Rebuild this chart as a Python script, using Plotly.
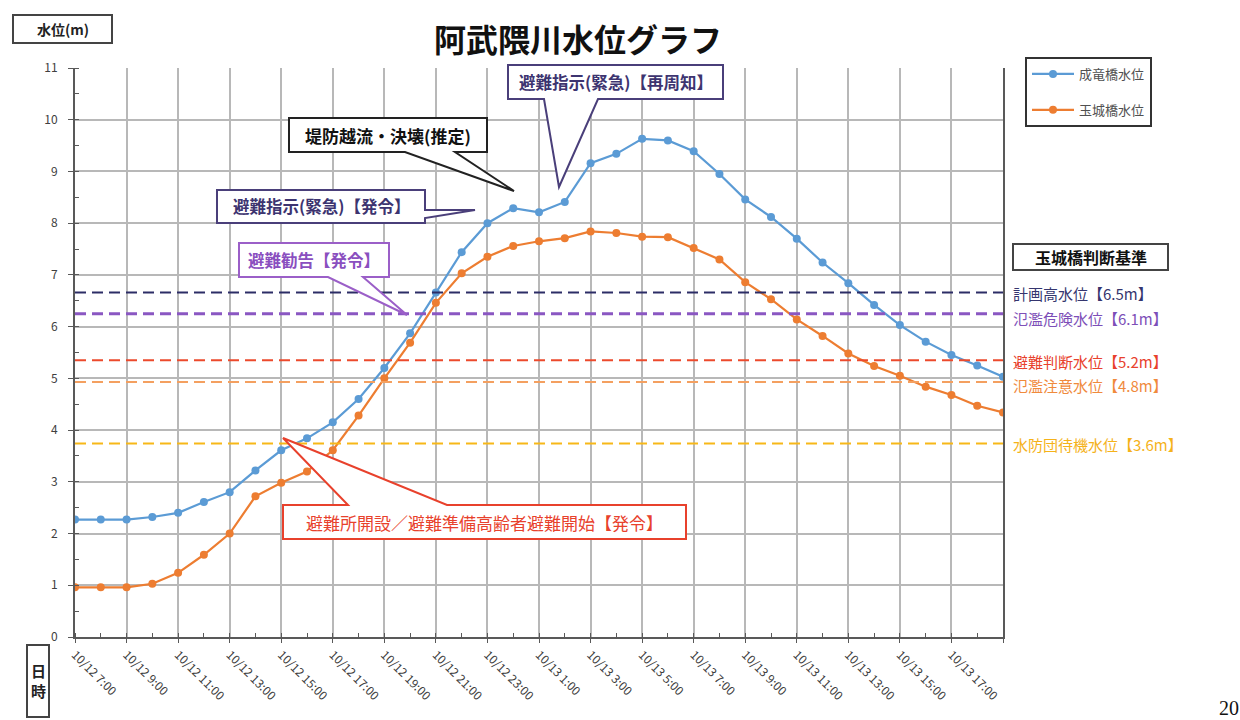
import plotly.graph_objects as go

# ---------------- data ----------------
times = (["10/12 %d:00" % h for h in range(7, 24)] +
         ["10/13 %d:00" % h for h in range(0, 20)])

seiryu = [2.27, 2.27, 2.27, 2.32, 2.40, 2.61, 2.80, 3.22, 3.61, 3.84, 4.15, 4.60,
          5.20, 5.87, 6.66, 7.44, 8.00,
          8.29, 8.21, 8.41, 9.16, 9.34, 9.63, 9.60, 9.39, 8.95, 8.46, 8.12, 7.70,
          7.24, 6.84, 6.42, 6.03, 5.71, 5.45, 5.25, 5.03]
tamaki = [0.96, 0.96, 0.96, 1.03, 1.24, 1.59, 2.00, 2.72, 2.98, 3.20, 3.61, 4.28,
          5.00, 5.69, 6.46, 7.03, 7.35,
          7.56, 7.65, 7.71, 7.84, 7.81, 7.74, 7.73, 7.52, 7.30, 6.86, 6.53, 6.14,
          5.82, 5.48, 5.24, 5.05, 4.84, 4.68, 4.47, 4.34]

series_names = ["成竜橋水位", "玉城橋水位"]

level_names = ["計画高水位【6.5m】", "氾濫危険水位【6.1m】", "避難判断水位【5.2m】",
               "氾濫注意水位【4.8m】", "水防団待機水位【3.6m】"]
level_lines = [6.66, 6.25, 5.35, 4.93, 3.74]
level_colors = ["#2c2d66", "#8a57c2", "#ec4a2c", "#f4a060", "#f7b818"]
level_text_colors = ["#35356e", "#7d4fb8", "#e8412c", "#f08a3c", "#f5b21a"]
level_widths = [2, 3, 2, 2, 2]

xidx = list(range(len(times)))
tick_idx = xidx[0:len(times) - 1:2]
tick_txt = [times[i] for i in tick_idx]

# ------------- geometry helpers (pixel -> paper) -------------
L, T, W, H = 75, 68, 928, 569
FIG_W, FIG_H = 1240, 720


def px(x):
    return (x - L) / W


def py(y):
    return (T + H - y) / H


FONT = "Noto Sans CJK JP"

fig = go.Figure()
fig.add_trace(go.Scatter(x=xidx, y=seiryu, mode="lines+markers", name=series_names[0],
                         line=dict(color="#5b9bd5", width=2.2),
                         marker=dict(size=8, color="#5b9bd5"),
                         legendgroup="a"))
fig.add_trace(go.Scatter(x=xidx, y=tamaki, mode="lines+markers", name=series_names[1],
                         line=dict(color="#ed7d31", width=2.2),
                         marker=dict(size=8, color="#ed7d31"),
                         legendgroup="b"))

shapes = []
annos = []

# threshold dashed lines + labels (labels nudged apart slightly so they don't collide)
label_nudge = [-0.02, -0.1, -0.02, -0.06, -0.01]
for name, yv, c, tc, w, dn in zip(level_names, level_lines, level_colors, level_text_colors,
                                   level_widths, label_nudge):
    shapes.append(dict(type="line", xref="paper", yref="y", x0=0, x1=1, y0=yv, y1=yv,
                       line=dict(color=c, width=w, dash="11px,6px"), layer="above"))
    annos.append(dict(xref="paper", yref="y", x=px(1011), y=yv + dn, text=name, showarrow=False,
                      xanchor="left", yanchor="middle",
                      font=dict(family=FONT, size=15, color=tc)))


def path_str(pts):
    s = "M %f,%f" % (px(pts[0][0]), py(pts[0][1]))
    for p in pts[1:]:
        s += " L %f,%f" % (px(p[0]), py(p[1]))
    return s + " Z"


def callout(box, side, b1, b2, tip, color, text, tcolor, bold=False, size=15):
    x0, y0, x1, y1 = box
    if side == "bottom":
        pts = [(x0, y0), (x1, y0), (x1, y1), (b2, y1), tip, (b1, y1), (x0, y1)]
    elif side == "top":
        pts = [(x0, y0), (b1, y0), tip, (b2, y0), (x1, y0), (x1, y1), (x0, y1)]
    else:  # right
        pts = [(x0, y0), (x1, y0), (x1, b1), tip, (x1, b2), (x1, y1), (x0, y1)]
    shapes.append(dict(type="path", xref="paper", yref="paper", path=path_str(pts),
                       fillcolor="white", line=dict(color=color, width=2), layer="above"))
    t = "<b>%s</b>" % text if bold else text
    annos.append(dict(xref="paper", yref="paper", x=px((x0 + x1) / 2), y=py((y0 + y1) / 2),
                      text=t, showarrow=False, xanchor="center", yanchor="middle",
                      font=dict(family=FONT, size=size, color=tcolor)))


def box(b, text, bold=True, size=15, color="#222"):
    x0, y0, x1, y1 = b
    shapes.append(dict(type="rect", xref="paper", yref="paper", x0=px(x0), x1=px(x1),
                       y0=py(y0), y1=py(y1), fillcolor="white",
                       line=dict(color="#444", width=2), layer="above"))
    t = "<b>%s</b>" % text if bold else text
    annos.append(dict(xref="paper", yref="paper", x=px((x0 + x1) / 2), y=py((y0 + y1) / 2),
                      text=t, showarrow=False, xanchor="center", yanchor="middle",
                      font=dict(family=FONT, size=size, color=color)))


callout((289, 118, 487, 152), "bottom", 405, 455, (514, 191), "#222222",
        "堤防越流・決壊(推定)", "#111111", bold=True, size=17)
callout((508, 65, 723, 99), "bottom", 544, 598, (559, 187), "#4a3f7a",
        "避難指示(緊急)【再周知】", "#3d3470", bold=True, size=16.5)
callout((217, 190, 425, 223), "right", 210, 218, (475, 210), "#4a3f7a",
        "避難指示(緊急)【発令】", "#3d3470", bold=True, size=16.5)
callout((239, 243, 389, 277), "bottom", 328, 363, (407, 315), "#9b5fc8",
        "避難勧告【発令】", "#8a4fbf", bold=True, size=16.5)
callout((283, 505, 686, 539), "top", 348, 447, (283, 438), "#e8412c",
        "避難所開設／避難準備高齢者避難開始【発令】", "#e8412c", bold=False, size=17)

box((13, 15, 112, 43), "水位(m)", size=14)
box((27, 645, 49, 717), "日<br>時", size=15)
box((1013, 244, 1168, 270), "玉城橋判断基準", size=16, color="#111")

# title
annos.append(dict(xref="paper", yref="paper", x=px(578), y=py(38), text="<b>阿武隈川水位グラフ</b>",
                  showarrow=False, xanchor="center", yanchor="middle",
                  font=dict(family=FONT, size=32, color="#111")))
# page number
annos.append(dict(xref="paper", yref="paper", x=px(1217), y=py(708), text="20",
                  showarrow=False, xanchor="left", yanchor="middle",
                  font=dict(family="Liberation Serif", size=20, color="#111")))

fig.update_layout(
    width=FIG_W, height=FIG_H,
    margin=dict(l=L, r=FIG_W - L - W, t=T, b=FIG_H - T - H),
    paper_bgcolor="white", plot_bgcolor="white",
    shapes=shapes, annotations=annos,
    font=dict(family=FONT, color="#404040"),
    legend=dict(x=px(1025), y=py(57), xanchor="left", yanchor="top",
                bordercolor="#333", borderwidth=2, bgcolor="white",
                font=dict(family=FONT, size=13, color="#505050"),
                tracegroupgap=16, itemwidth=42),
    xaxis=dict(range=[0, len(times) - 1], tickmode="array", tickvals=tick_idx + [len(times) - 1],
               ticktext=tick_txt + [""], tickangle=45,
               tickfont=dict(family=FONT, size=12, color="#404040"),
               showgrid=True, gridcolor="#b8b8b8", gridwidth=1.5,
               showline=True, linecolor="#595959", linewidth=2,
               ticks="outside", ticklen=4, tickcolor="#595959",
               minor=dict(dtick=1, ticks="inside", ticklen=4, tickcolor="#595959", showgrid=False),
               zeroline=False, fixedrange=True),
    yaxis=dict(range=[0, 11], dtick=1, tick0=0,
               tickfont=dict(family=FONT, size=12, color="#404040"),
               showgrid=True, gridcolor="#b8b8b8", gridwidth=1.5,
               showline=True, linecolor="#595959", linewidth=2, mirror=True,
               ticks="outside", ticklen=5, tickcolor="#595959", ticklabelstandoff=8,
               minor=dict(dtick=0.5, ticks="inside", ticklen=4, tickcolor="#595959", showgrid=False),
               zeroline=False, fixedrange=True),
)

fig.write_html("out.html")
